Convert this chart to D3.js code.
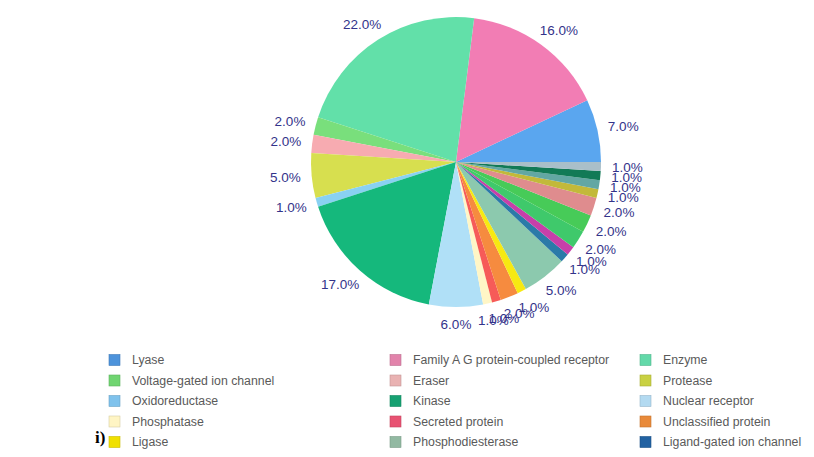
<!DOCTYPE html>
<html>
<head>
<meta charset="utf-8">
<script src="https://cdn.jsdelivr.net/npm/d3@7"></script>
<style>
  html, body { margin: 0; padding: 0; background: #fff; }
  svg { display: block; }
</style>
</head>
<body>
<svg id="chart" width="814" height="457"></svg>
<script>
// Target classes, in drawing order (counter-clockwise from 3 o'clock)
const categories = [
  "Lyase", "Family A G protein-coupled receptor", "Enzyme",
  "Voltage-gated ion channel", "Eraser", "Protease",
  "Oxidoreductase", "Kinase", "Nuclear receptor",
  "Phosphatase", "Secreted protein", "Unclassified protein",
  "Ligase", "Phosphodiesterase", "Ligand-gated ion channel",
  "Transporter", "Membrane receptor", "Ion channel",
  "Reader", "Writer", "Transcription factor",
  "Structural protein", "Surface antigen"
];
// Share of targets, percent
const shares = [
  7, 16, 22,
  2, 2, 5,
  1, 17, 6,
  1, 1, 2,
  1, 5, 1,
  1, 2, 2,
  2, 1, 1,
  1, 1
];
// Slice colours
const sliceColors = [
  "#5aa6ef", "#f27db4", "#62e0a9",
  "#79df7c", "#f7abb1", "#d7df4f",
  "#89d1f2", "#15b87c", "#b0e0f7",
  "#fff6c6", "#f65b58", "#f68b3f",
  "#f7e912", "#8cc9ae", "#2b7aa8",
  "#c73fa9", "#3fc96b", "#47cb58",
  "#df8c8e", "#c2b93a", "#62a7a3",
  "#127a56", "#a9bfc9"
];
// Legend swatch colours (only the first entries are listed)
const legendColors = [
  "#4d93db", "#e283ab", "#63d9a9",
  "#70d571", "#e9b2b2", "#c9d143",
  "#7fc2ec", "#17a172", "#b3daf1",
  "#fff5c4", "#e85272", "#e98a3a",
  "#f0e000", "#92b9a2", "#2262a2"
];
const legendCount = 15;

const svg = d3.select("#chart");
const cx = 456, cy = 162, radius = 145;

const pie = d3.pie()
  .sort(null)
  .value(d => d.value)
  .startAngle(Math.PI / 2)
  .endAngle(Math.PI / 2 - 2 * Math.PI);

const data = categories.map((name, i) => ({ name, value: shares[i], color: sliceColors[i] }));
const arcs = pie(data);
const arc = d3.arc().innerRadius(0).outerRadius(radius);

const g = svg.append("g").attr("transform", `translate(${cx},${cy})`);

g.selectAll("path.slice")
  .data(arcs)
  .join("path")
  .attr("class", "slice")
  .attr("d", arc)
  .attr("fill", d => d.data.color);

// Percentage labels outside the pie
const labelR = 156;
const fontSize = 13.5;
g.selectAll("text.pct")
  .data(arcs)
  .join("text")
  .attr("class", "pct")
  .each(function(d) {
    const mid = (d.startAngle + d.endAngle) / 2;
    const dx = Math.sin(mid), dy = -Math.cos(mid);
    const t = d3.select(this)
      .text(d3.format(".1f")(d.data.value) + "%")
      .attr("font-family", "'Liberation Sans', Arial, sans-serif")
      .attr("font-size", fontSize)
      .attr("fill", "#33338a")
      .attr("text-anchor", "middle")
      .attr("dominant-baseline", "central");
    const w = this.getComputedTextLength();
    t.attr("x", labelR * dx + dx * w / 2)
     .attr("y", labelR * dy + dy * fontSize / 2);
  });

// Legend: three columns, row-major
const colX = [109, 390, 640];
const rowY0 = 360, rowStep = 20.5;
const legend = svg.append("g").attr("class", "legend");
categories.slice(0, legendCount).forEach((name, i) => {
  const col = i % 3, row = Math.floor(i / 3);
  const x = colX[col], y = rowY0 + row * rowStep;
  const c = d3.color(legendColors[i]);
  legend.append("rect")
    .attr("x", x).attr("y", y - 5.5)
    .attr("width", 11).attr("height", 11)
    .attr("fill", legendColors[i])
    .attr("stroke", c.darker(0.5))
    .attr("stroke-width", 0.6);
  legend.append("text")
    .attr("x", x + 23).attr("y", y)
    .attr("dominant-baseline", "central")
    .attr("font-family", "'Liberation Sans', Arial, sans-serif")
    .attr("font-size", 12.3)
    .attr("fill", "#5a5a5a")
    .text(name);
});

// Panel tag
svg.append("text")
  .attr("x", 95).attr("y", 443)
  .attr("font-family", "'Liberation Serif', 'Times New Roman', serif")
  .attr("font-weight", "bold")
  .attr("font-size", 17)
  .attr("fill", "#000")
  .text("i)");
</script>
</body>
</html>
